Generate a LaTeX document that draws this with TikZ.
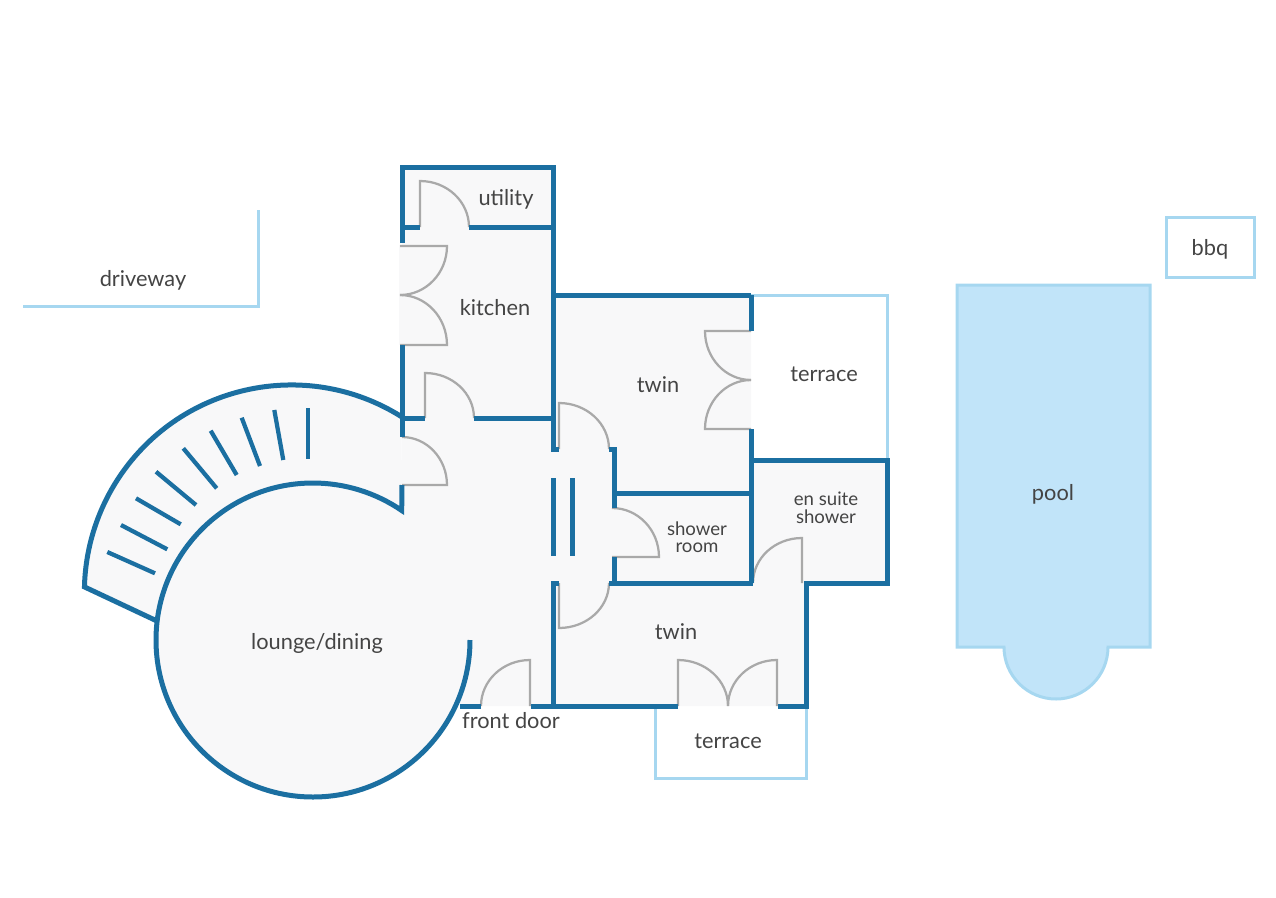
\documentclass[tikz,border=0pt]{standalone}
\usepackage{fontspec}
\setmainfont{Lato}
\definecolor{wallblue}{HTML}{1B6FA1}
\definecolor{edgeblue}{HTML}{A6D7F0}
\definecolor{poolblue}{HTML}{C1E4F9}
\definecolor{floorgrey}{HTML}{F8F8F9}
\definecolor{doorgrey}{HTML}{A9A9A9}
\definecolor{textgrey}{HTML}{444444}
\tikzset{
  wall/.style={draw=wallblue,line width=0.1cm},
  stairline/.style={draw=wallblue,line width=0.085cm},
  edge/.style={draw=edgeblue,line width=0.06cm},
  door/.style={draw=doorgrey,line width=0.045cm},
  room/.style={text=textgrey,font=\fontsize{12.4}{12.4}\selectfont,inner sep=0pt},
  smallroom/.style={room,align=center,font=\fontsize{10.6}{10.6}\selectfont},
}
\begin{document}
\begin{tikzpicture}[x=0.02cm,y=-0.02cm]
  \useasboundingbox (0,0) rectangle (1276,897);

  % floor
  \fill[floorgrey] (402,167) -- (553,167) -- (553,295) -- (751,295) -- (751,460) -- (887,460)
    -- (887,583) -- (806,583) -- (806,706) -- (460,706) -- (460,640) -- (402,640) -- cycle;
  \fill[floorgrey] (399,245) rectangle (402,345);
  \fill[floorgrey] (313,641) circle[radius=157];
  \fill[floorgrey] (84,587) arc[start angle=181.4,end angle=302.3,radius=207] -- (402,511)
    arc[start angle=304.4,end angle=187.6,radius=157] -- cycle;

  % pool, terraces, driveway, bbq
  \draw[edge,fill=poolblue] (957,285) -- (1150,285) -- (1150,647) -- (1108,647)
    arc[start angle=0,end angle=180,radius=52] -- (957,647) -- cycle;
  \draw[edge] (1166,217) rectangle (1254,277);
  \draw[edge] (23,306) -- (258,306) -- (258,210);
  \draw[edge] (751,295) -- (887,295) -- (887,460);
  \draw[edge] (655,706) -- (655,778) -- (806,778) -- (806,706);

  % doors
  \draw[door] (420,227) -- (420,181) arc[start angle=270,end angle=360,x radius=49,y radius=46];
  \draw[door] (400,246) -- (447,246) arc[start angle=0,end angle=90,x radius=47,y radius=49];
  \draw[door] (400,345) -- (447,345) arc[start angle=0,end angle=-90,x radius=47,y radius=50];
  \draw[door] (425,418) -- (425,373) arc[start angle=270,end angle=360,x radius=49,y radius=45];
  \draw[door] (402,437) arc[start angle=270,end angle=360,x radius=45,y radius=48] -- (402,485);
  \draw[door] (559,449) -- (559,403) arc[start angle=270,end angle=360,x radius=50,y radius=46];
  \draw[door] (612,508) arc[start angle=270,end angle=360,x radius=47,y radius=49] -- (612,557);
  \draw[door] (559,583) -- (559,628) arc[start angle=90,end angle=0,x radius=50,y radius=45];
  \draw[door] (802,583) -- (802,538) arc[start angle=270,end angle=180,x radius=49,y radius=45];
  \draw[door] (530,706) -- (530,660) arc[start angle=270,end angle=180,x radius=49,y radius=46];
  \draw[door] (678,706) -- (678,660) arc[start angle=270,end angle=360,x radius=50,y radius=46];
  \draw[door] (777,706) -- (777,660) arc[start angle=270,end angle=180,x radius=49,y radius=46];
  \draw[door] (751,331) -- (705,331) arc[start angle=180,end angle=90,x radius=46,y radius=49];
  \draw[door] (751,429) -- (705,429) arc[start angle=180,end angle=270,x radius=46,y radius=49];

  % walls
  \draw[wall] (402,243) -- (402,167) -- (553,167) -- (553,452);
  \draw[wall] (402,345) -- (402,437);
  \draw[wall] (402,227) -- (420,227);
  \draw[wall] (469,227) -- (553,227);
  \draw[wall] (402,418) -- (425,418);
  \draw[wall] (474,418) -- (553,418);
  \draw[wall] (553,295) -- (751,295);
  \draw[wall] (751,295) -- (751,331);
  \draw[wall] (751,429) -- (751,583);
  \draw[wall] (751,460) -- (887,460) -- (887,583) -- (804,583);
  \draw[wall] (609,449) -- (614,449) -- (614,508);
  \draw[wall] (614,557) -- (614,583);
  \draw[wall] (614,493) -- (751,493);
  \draw[wall] (609,583) -- (753,583);
  \draw[wall] (806,581) -- (806,706) -- (778,706);
  \draw[wall] (678,706) -- (531,706);
  \draw[wall] (481,706) -- (460,706);
  \draw[wall] (559,583) -- (553,583) -- (553,706);
  \draw[wall] (553,449) -- (559,449);
  \draw[wall] (553,478) -- (553,556);
  \draw[wall] (572,478) -- (572,556);
  \draw[wall] (470,640) arc[start angle=0,end angle=304.4,radius=157] -- (402,485);
  \draw[wall] (402,417) arc[start angle=302.3,end angle=181.4,radius=207] -- (157,621);

  % stairs
  \draw[stairline] (307.7,408.3) -- (307.7,459.3);
  \draw[stairline] (274.3,410) -- (283.3,460);
  \draw[stairline] (241.7,417.7) -- (260,466);
  \draw[stairline] (210.7,430.7) -- (236.7,475);
  \draw[stairline] (183.3,448.3) -- (216.7,488.3);
  \draw[stairline] (156,471.7) -- (196,505);
  \draw[stairline] (136,498.3) -- (180.7,524.3);
  \draw[stairline] (121,525) -- (167.3,549.3);
  \draw[stairline] (107.3,552) -- (155,573.3);

  % labels
  \node[room] (utility) at (506,199) {utility};
  \node[room] (kitchen) at (495,308) {kitchen};
  \node[room] (twintop) at (658,385) {twin};
  \node[room] (terracetop) at (824,374) {terrace};
  \node[room] (driveway) at (143,280) {driveway};
  \node[room] (bbq) at (1210,249) {bbq};
  \node[room] (pool) at (1053,494) {pool};
  \node[room] (lounge) at (317,643) {lounge/dining};
  \node[room] (twinlow) at (676,632) {twin};
  \node[room] (frontdoor) at (511,721) {front door};
  \node[room] (terracelow) at (728,741) {terrace};
  \node[smallroom] (ensuite) at (826,507.5) {en suite\\[-0.6pt]shower};
  \node[smallroom] (shower) at (697,537) {shower\\[-0.8pt]room};
\end{tikzpicture}
\end{document}
